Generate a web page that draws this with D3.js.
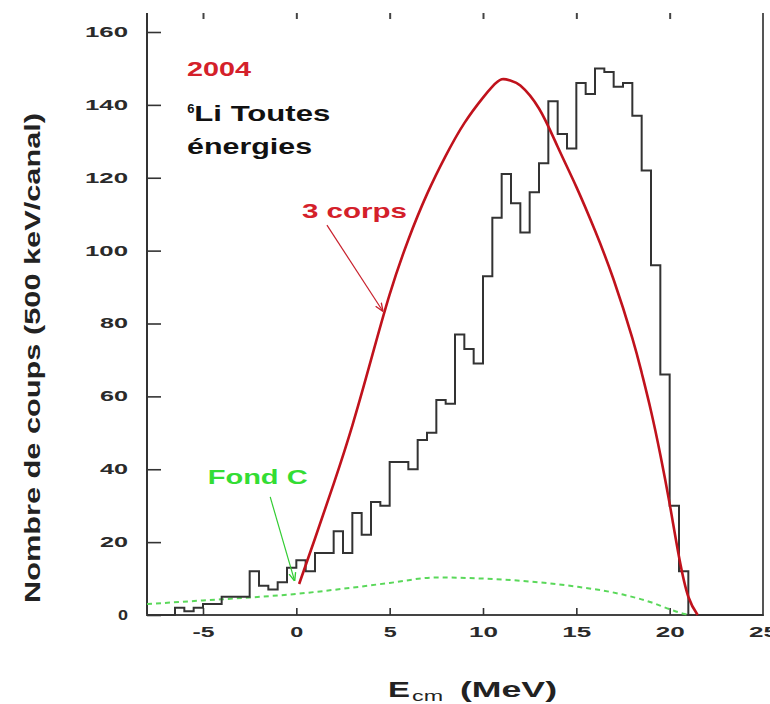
<!DOCTYPE html>
<html><head><meta charset="utf-8">
<script src="https://cdn.jsdelivr.net/npm/d3@7"></script>
<style>body{margin:0;background:#fff}svg{display:block;font-family:"Liberation Sans",Arial,sans-serif}</style>
</head><body><svg id="c" width="770" height="704"></svg>
<script>
// ---- data ----
const binStarts = [-8,-7.5,-7,-6.5,-6,-5.5,-5,-4.5,-4,-3.5,-3,-2.5,-2,-1.5,-1,-0.5,0,0.5,1,1.5,2,2.5,3,3.5,4,4.5,5,5.5,6,6.5,7,7.5,8,8.5,9,9.5,10,10.5,11,11.5,12,12.5,13,13.5,14,14.5,15,15.5,16,16.5,17,17.5,18,18.5,19,19.5,20,20.5];
const counts    = [0,0,0,2,1,2,3,3,5,5,5,12,8,7,9,13,15,12,17,17,23,17,28,22,31,30,42,42,40,48,50,59,58,77,73,69,93,109,121,113,105,116,124,141,132,128,146,143,150,149,145,146,137,122,96,66,30,12];
const histEnd = 21;

const fitE = [0.15,1,2,3,4,5,6,7,8,9,10,10.5,11,11.5,12,13,14,15,16,17,18,18.5,19,19.5,20,20.5,21,21.5];
const fitV = [8.5,21,36,52,70,88,103,115.5,126,135,142,145,147,146.6,145.3,139,128.5,117.5,105.5,92,76,66.5,56,44,30.5,16,5,0];

const bgE = [-8,-5,-2.5,0,2.5,5,7.5,10,12.5,15,17.5,19,20,20.8,21.2];
const bgV = [3,4,4.8,5.8,7.2,8.8,10.3,10,9.2,7.8,5.6,3.5,1.6,0.3,0];

const xTicks = [-5,0,5,10,15,20,25];
const yTicks = [0,20,40,60,80,100,120,140,160];
const xLabel = "E", xLabelSub = "cm", xLabelUnit = "(MeV)";
const yLabel = "Nombre de coups (500 keV/canal)";

// ---- layout ----
const svg = d3.select("#c");
const x = d3.scaleLinear().domain([-8,25]).range([147,763]);
const y = d3.scaleLinear().domain([0,160]).range([615,32]);
const topY = 13;

const defs = svg.append("defs");
function marker(id, color){
  defs.append("marker").attr("id",id).attr("viewBox","0 0 10 10").attr("refX",9).attr("refY",5)
    .attr("markerWidth",7).attr("markerHeight",7).attr("orient","auto-start-reverse")
    .append("path").attr("d","M0,1 L10,5 L0,9").attr("fill","none").attr("stroke",color).attr("stroke-width",1.6);
}
marker("arRed","#c8202c"); marker("arGreen","#33cc33");
defs.append("clipPath").attr("id","clip").append("rect").attr("x",147).attr("y",topY).attr("width",616).attr("height",603);

// frame lines
svg.append("line").attr("x1",147).attr("x2",147).attr("y1",topY).attr("y2",616).attr("stroke","#333").attr("stroke-width",2);
svg.append("line").attr("x1",763).attr("x2",763).attr("y1",topY).attr("y2",616).attr("stroke","#555").attr("stroke-width",2);
svg.append("line").attr("x1",146).attr("x2",764).attr("y1",615).attr("y2",615).attr("stroke","#444").attr("stroke-width",2.2);

// left axis ticks + labels
const ya = svg.append("g").attr("transform","translate(147,0)")
  .call(d3.axisLeft(y).tickValues(yTicks).tickSizeInner(-14).tickSizeOuter(0).tickPadding(19).tickFormat(d=>String(d)));
ya.select(".domain").remove();
ya.selectAll(".tick line").attr("stroke","#333").attr("stroke-width",1.6);
ya.selectAll("text").attr("font-size",14).attr("font-weight","bold").attr("fill","#2a2a2a")
  .attr("font-family","'Liberation Sans',Arial,sans-serif")
  .each(function(d){ const n=String(d).length; d3.select(this).attr("textLength", n===1?10:(n===2?28:43)).attr("lengthAdjust","spacingAndGlyphs"); });

// bottom axis
const xa = svg.append("g").attr("transform","translate(0,615)")
  .call(d3.axisBottom(x).tickValues(xTicks).tickSizeInner(-7).tickSizeOuter(0).tickPadding(12).tickFormat(d=>String(d)));
xa.select(".domain").remove();
xa.selectAll(".tick line").attr("stroke","#333").attr("stroke-width",1.6).filter(d=>d===25).remove();
xa.selectAll("text").attr("font-size",14).attr("font-weight","bold").attr("fill","#2a2a2a")
  .attr("font-family","'Liberation Sans',Arial,sans-serif")
  .each(function(d){ const n=String(Math.abs(d)).length; d3.select(this).attr("textLength", d<0?22:(n===1?13:29)).attr("lengthAdjust","spacingAndGlyphs"); });

// top ticks
const ta = svg.append("g").attr("transform",`translate(0,${topY})`)
  .call(d3.axisTop(x).tickValues(xTicks.filter(d=>d<25)).tickSizeInner(-6).tickSizeOuter(0).tickFormat(""));
ta.select(".domain").remove();
ta.selectAll(".tick line").attr("stroke","#444").attr("stroke-width",2);

const plot = svg.append("g").attr("clip-path","url(#clip)");

// background (Fond C)
plot.append("path").datum(bgE.map((e,i)=>[e,bgV[i]]))
  .attr("d", d3.line().x(d=>x(d[0])).y(d=>y(d[1])).curve(d3.curveMonotoneX))
  .attr("fill","none").attr("stroke","#5ad85a").attr("stroke-width",2).attr("stroke-dasharray","5,4");

// histogram
const hpts = binStarts.map((e,i)=>[e,counts[i]]).concat([[histEnd,0],[25,0]]);
plot.append("path").datum(hpts)
  .attr("d", d3.line().x(d=>x(d[0])).y(d=>y(d[1])).curve(d3.curveStepAfter))
  .attr("fill","none").attr("stroke","#333").attr("stroke-width",2);

// 3-body curve
plot.append("path").datum(fitE.map((e,i)=>[e,fitV[i]]))
  .attr("d", d3.line().x(d=>x(d[0])).y(d=>y(d[1])).curve(d3.curveNatural))
  .attr("fill","none").attr("stroke","#c0121c").attr("stroke-width",2.6);

// annotations
function stext(txt, ex, ev, opts){
  const t = svg.append("text").attr("x",x(ex)).attr("y",y(ev)).text(txt)
    .attr("font-size",opts.size).attr("font-weight","bold").attr("fill",opts.color);
  if(opts.len) t.attr("textLength",opts.len).attr("lengthAdjust","spacingAndGlyphs");
  if(opts.anchor) t.attr("text-anchor",opts.anchor);
  return t;
}
stext("2004", -5.85, 148, {size:21, color:"#d4202a", len:64});
const li = svg.append("text").attr("x",x(-5.85)).attr("y",y(135.5)).attr("font-weight","bold").attr("fill","#111");
li.append("tspan").text("6").attr("font-size",13).attr("dy",-8);
li.append("tspan").text("Li Toutes").attr("font-size",22).attr("dy",8).attr("textLength",136).attr("lengthAdjust","spacingAndGlyphs");
stext("énergies", -5.85, 126.5, {size:22, color:"#111", len:125});
stext("3 corps", 0.3, 109, {size:21, color:"#d4202a", len:105});
stext("Fond C", -4.75, 36, {size:21, color:"#33dd33", len:100});

svg.append("line").attr("x1",x(1.64)).attr("y1",y(107)).attr("x2",x(4.62)).attr("y2",y(83.5))
  .attr("stroke","#c8202c").attr("stroke-width",1.2).attr("marker-end","url(#arRed)");
svg.append("line").attr("x1",x(-1.4)).attr("y1",y(32.4)).attr("x2",x(-0.1)).attr("y2",y(9.5))
  .attr("stroke","#33cc33").attr("stroke-width",1.2).attr("marker-end","url(#arGreen)");

// axis titles
const xt = svg.append("text").attr("x",388).attr("y",697).attr("font-weight","bold").attr("fill","#222");
xt.append("tspan").text(xLabel).attr("font-size",22).attr("textLength",22).attr("lengthAdjust","spacingAndGlyphs");
xt.append("tspan").text(xLabelSub).attr("font-size",15).attr("font-weight","normal").attr("x",412).attr("dy",4)
  .attr("textLength",31).attr("lengthAdjust","spacingAndGlyphs");
xt.append("tspan").text(xLabelUnit).attr("font-size",22).attr("dy",-4).attr("x",460).attr("textLength",97).attr("lengthAdjust","spacingAndGlyphs");

svg.append("text").text(yLabel).attr("transform","translate(40,358) rotate(-90)")
  .attr("text-anchor","middle").attr("font-size",22).attr("font-weight","bold").attr("fill","#222")
  .attr("textLength",490).attr("lengthAdjust","spacingAndGlyphs");
</script></body></html>
